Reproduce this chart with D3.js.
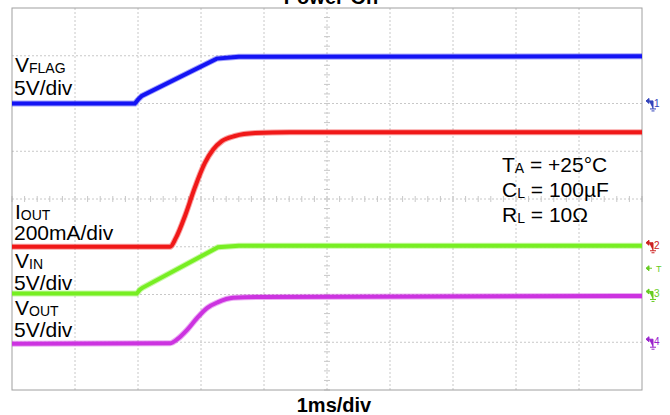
<!DOCTYPE html>
<html>
<head>
 <meta charset="UTF-8">
 <title>Power-On</title>
 <script src="https://d3js.org/d3.v7.min.js"></script>
 <style>
  body { margin: 0; background: #fff; }
  text { font-family: "Liberation Sans", Arial, sans-serif; }
 </style>
</head>
<body>
<script>
// time in ms (1 ms per division), level in divisions from bottom of screen
var vflag = [[0, 6.0], [1.95, 6.0], [2.0, 6.08], [2.06, 6.16], [3.25, 6.94], [3.6, 6.98], [10, 6.99]];
var iout = [[0, 3.0], [2.51, 3.0], [2.60, 3.18], [2.75, 3.66], [2.90, 4.23], [3.06, 4.75], [3.19, 5.03],
            [3.33, 5.21], [3.54, 5.32], [3.86, 5.38], [4.41, 5.40], [10, 5.40]];
var vin = [[0, 2.02], [1.98, 2.02], [2.03, 2.1], [2.07, 2.14], [3.27, 2.99], [3.6, 3.02], [10, 3.02]];
var vout = [[0, 0.97], [2.51, 0.98], [2.63, 1.07], [2.78, 1.26], [2.94, 1.51], [3.10, 1.72], [3.27, 1.84],
            [3.51, 1.93], [3.94, 1.95], [10, 1.97]];

var traces = [
  {name: "vflag", data: vflag, color: "#1414f4", smooth: false},
  {name: "iout", data: iout, color: "#f01818", smooth: true},
  {name: "vin", data: vin, color: "#77ee22", smooth: false},
  {name: "vout", data: vout, color: "#cc33e0", smooth: true}
];

// ground markers on right edge: channel, level, colour
var markers = [["1", 5.97, "#3344bb"], ["2", 3.0, "#cc2222"], ["3", 1.98, "#66cc22"], ["4", 0.98, "#9922cc"]];
var trigLevel = 2.55;

var width = 670, height = 415;
var pLeft = 12, pRight = 642, pTop = 8, pBottom = 390;

var svg = d3.select("body").append("svg")
  .attr("width", width)
  .attr("height", height);

var x = d3.scaleLinear().domain([0, 10]).range([pLeft, pRight]);
var y = d3.scaleLinear().domain([0, 8]).range([pBottom, pTop]);

// grid
var grid = svg.append("g");
grid.selectAll(".gx").data(d3.range(1, 10)).enter().append("line")
  .attr("x1", function (d) { return x(d); })
  .attr("x2", function (d) { return x(d); })
  .attr("y1", pTop).attr("y2", pBottom)
  .attr("stroke", "#c8c8c8").attr("stroke-dasharray", "2,2");
grid.selectAll(".gy").data(d3.range(1, 8)).enter().append("line")
  .attr("y1", function (d) { return y(d); })
  .attr("y2", function (d) { return y(d); })
  .attr("x1", pLeft).attr("x2", pRight)
  .attr("stroke", "#c8c8c8").attr("stroke-dasharray", "2,2");

// minor ticks on centre lines
grid.selectAll(".tx").data(d3.range(0, 10.01, 0.2)).enter().append("line")
  .attr("x1", function (d) { return x(d); })
  .attr("x2", function (d) { return x(d); })
  .attr("y1", y(4) - 3).attr("y2", y(4) + 3)
  .attr("stroke", "#c8c8c8");
grid.selectAll(".ty").data(d3.range(0, 8.01, 0.2)).enter().append("line")
  .attr("y1", function (d) { return y(d); })
  .attr("y2", function (d) { return y(d); })
  .attr("x1", x(5) - 3).attr("x2", x(5) + 3)
  .attr("stroke", "#c8c8c8");

svg.append("rect")
  .attr("x", pLeft).attr("y", pTop)
  .attr("width", pRight - pLeft).attr("height", pBottom - pTop)
  .attr("fill", "none").attr("stroke", "#a0a0a0");

// traces
traces.forEach(function (t) {
  var line = d3.line()
    .x(function (d) { return x(d[0]); })
    .y(function (d) { return y(d[1]); })
    .curve(t.smooth ? d3.curveMonotoneX : d3.curveLinear);
  svg.append("path").datum(t.data)
    .attr("d", line)
    .attr("fill", "none")
    .attr("stroke", t.color)
    .attr("stroke-width", 6)
    .attr("stroke-opacity", 0.4);
  svg.append("path").datum(t.data)
    .attr("d", line)
    .attr("fill", "none")
    .attr("stroke", t.color)
    .attr("stroke-width", 4);
});

// channel markers
var mk = svg.selectAll(".mk").data(markers).enter().append("g")
  .attr("transform", function (d) { return "translate(" + (pRight + 4) + "," + y(d[1]) + ")"; });
mk.append("path")
  .attr("d", "M0,-4 L3,-6.5 L3,-1.5 Z M3,-4 L7,-4 L7,4 M4,4 L10,4 M5.5,6 L8.5,6")
  .attr("fill", function (d) { return d[2]; })
  .attr("stroke", function (d) { return d[2]; })
  .attr("stroke-width", 1);
mk.append("text")
  .attr("x", 8).attr("y", 2)
  .attr("font-size", 10)
  .attr("fill", function (d) { return d[2]; })
  .text(function (d) { return d[0]; });

var trig = svg.append("g").attr("transform", "translate(" + (pRight + 4) + "," + y(trigLevel) + ")");
trig.append("path").attr("d", "M0,0 L3,-2.5 L3,2.5 Z M3,0 L6,0")
  .attr("fill", "#66cc22").attr("stroke", "#66cc22");
trig.append("text").attr("x", 10).attr("y", 3.5).attr("font-size", 9)
  .attr("fill", "#66cc22").text("T");

// titles
svg.append("text").attr("x", 331).attr("y", 4).attr("text-anchor", "middle")
  .attr("font-size", 20).attr("font-weight", "bold").text("Power-On");
svg.append("text").attr("x", 334).attr("y", 412).attr("text-anchor", "middle")
  .attr("font-size", 20).attr("font-weight", "bold").text("1ms/div");

// trace labels
function label(xp, yp, main, sub) {
  var t = svg.append("text").attr("x", xp).attr("y", yp).attr("font-size", 21);
  t.append("tspan").text(main);
  if (sub) t.append("tspan").attr("font-size", 14).attr("dy", 1).text(sub);
  return t;
}
label(15, 72, "V", "FLAG");
label(14, 95, "5V/div");
label(15, 219, "I", "OUT");
label(14, 240, "200mA/div");
label(15, 268, "V", "IN");
label(14, 290, "5V/div");
label(15, 315, "V", "OUT");
label(14, 337, "5V/div");

label(502, 172, "T", "A").append("tspan").attr("dy", -1).text(" = +25°C");
label(502, 197, "C", "L").append("tspan").attr("dy", -1).text(" = 100µF");
label(502, 222, "R", "L").append("tspan").attr("dy", -1).text(" = 10Ω");
</script>
</body>
</html>
